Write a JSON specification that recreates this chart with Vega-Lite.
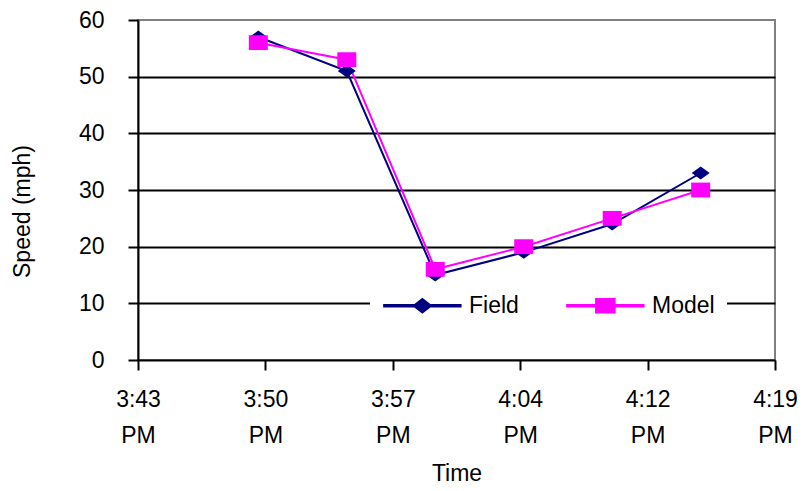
{
  "$schema": "https://vega.github.io/schema/vega-lite/v6.json",
  "width": 637,
  "height": 340,
  "autosize": "none",
  "padding": {"left": 138, "top": 20, "right": 36, "bottom": 131},
  "background": "white",
  "config": {
    "font": "Liberation Sans",
    "view": {"stroke": "#808080", "strokeWidth": 2},
    "axis": {
      "labelFont": "Liberation Sans",
      "titleFont": "Liberation Sans",
      "labelFontSize": 23,
      "titleFontSize": 23,
      "labelColor": "black",
      "titleColor": "black",
      "titleFontWeight": "normal",
      "domainColor": "black",
      "domainWidth": 2,
      "tickColor": "black",
      "tickWidth": 2,
      "tickSize": 10
    }
  },
  "data": {
    "values": [
      {"time": "2000/01/01 15:50:00", "series": "Field", "speed": 57},
      {"time": "2000/01/01 15:55:00", "series": "Field", "speed": 51},
      {"time": "2000/01/01 16:00:00", "series": "Field", "speed": 15},
      {"time": "2000/01/01 16:05:00", "series": "Field", "speed": 19},
      {"time": "2000/01/01 16:10:00", "series": "Field", "speed": 24},
      {"time": "2000/01/01 16:15:00", "series": "Field", "speed": 33},
      {"time": "2000/01/01 15:50:00", "series": "Model", "speed": 56},
      {"time": "2000/01/01 15:55:00", "series": "Model", "speed": 53},
      {"time": "2000/01/01 16:00:00", "series": "Model", "speed": 16},
      {"time": "2000/01/01 16:05:00", "series": "Model", "speed": 20},
      {"time": "2000/01/01 16:10:00", "series": "Model", "speed": 25},
      {"time": "2000/01/01 16:15:00", "series": "Model", "speed": 30}
    ]
  },
  "encoding": {
    "x": {
      "field": "time",
      "type": "temporal",
      "title": "Time",
      "scale": {
        "domain": [
          {"year": 2000, "month": 1, "date": 1, "hours": 15, "minutes": 43, "seconds": 12},
          {"year": 2000, "month": 1, "date": 1, "hours": 16, "minutes": 19, "seconds": 12}
        ],
        "nice": false
      },
      "axis": {
        "values": [
          {"year": 2000, "month": 1, "date": 1, "hours": 15, "minutes": 43, "seconds": 12},
          {"year": 2000, "month": 1, "date": 1, "hours": 15, "minutes": 50, "seconds": 24},
          {"year": 2000, "month": 1, "date": 1, "hours": 15, "minutes": 57, "seconds": 36},
          {"year": 2000, "month": 1, "date": 1, "hours": 16, "minutes": 4, "seconds": 48},
          {"year": 2000, "month": 1, "date": 1, "hours": 16, "minutes": 12, "seconds": 0},
          {"year": 2000, "month": 1, "date": 1, "hours": 16, "minutes": 19, "seconds": 12}
        ],
        "labelExpr": "[timeFormat(datum.value, '%-I:%M'), timeFormat(datum.value, '%p')]",
        "labelLineHeight": 36,
        "labelPadding": 18,
        "labelOverlap": false,
        "labelFlush": false,
        "grid": false,
        "titlePadding": 15
      }
    },
    "y": {
      "field": "speed",
      "type": "quantitative",
      "title": "Speed (mph)",
      "scale": {"domain": [0, 60], "nice": false},
      "axis": {
        "values": [0, 10, 20, 30, 40, 50, 60],
        "grid": true,
        "gridColor": {"condition": {"test": "datum.value == 60 || datum.value == 0", "value": "transparent"}, "value": "black"},
        "gridWidth": 2,
        "labelPadding": 24,
        "titlePadding": 44,
        "titleY": 191
      }
    },
    "color": {
      "field": "series",
      "type": "nominal",
      "scale": {"domain": ["Field", "Model"], "range": ["#000080", "#FF00FF"]},
      "legend": {
        "orient": "none",
        "legendX": 232,
        "legendY": 262,
        "direction": "horizontal",
        "title": null,
        "fillColor": "white",
        "padding": 12,
        "symbolSize": 370,
        "symbolOpacity": 1,
        "labelOffset": 64,
        "columnPadding": 44,
        "labelFont": "Liberation Sans",
        "labelFontSize": 23,
        "labelColor": "black"
      }
    }
  },
  "layer": [
    {
      "mark": {"type": "line", "strokeWidth": 2}
    },
    {
      "transform": [{"filter": "datum.series == 'Field'"}],
      "mark": {"type": "point", "filled": true, "opacity": 1, "size": 361, "shape": "M-0.95,0L0,-0.68L0.95,0L0,0.68Z"}
    },
    {
      "transform": [{"filter": "datum.series == 'Model'"}],
      "mark": {"type": "point", "filled": true, "opacity": 1, "size": 361, "shape": "M-1,-0.78L1,-0.78L1,0.78L-1,0.78Z"}
    },
    {
      "transform": [{"filter": "false"}],
      "mark": {"type": "point", "filled": true, "opacity": 1},
      "encoding": {
        "shape": {
          "field": "series",
          "type": "nominal",
          "scale": {
            "domain": ["Field", "Model"],
            "range": [
              "M-1,-0.1L7,-0.1L7,0.1L-1,0.1ZM2.06,0L3,-0.73L3.94,0L3,0.73Z",
              "M-1,-0.1L7,-0.1L7,0.1L-1,0.1ZM2.01,-0.73L3.99,-0.73L3.99,0.73L2.01,0.73Z"
            ]
          },
          "legend": null
        }
      }
    }
  ]
}
